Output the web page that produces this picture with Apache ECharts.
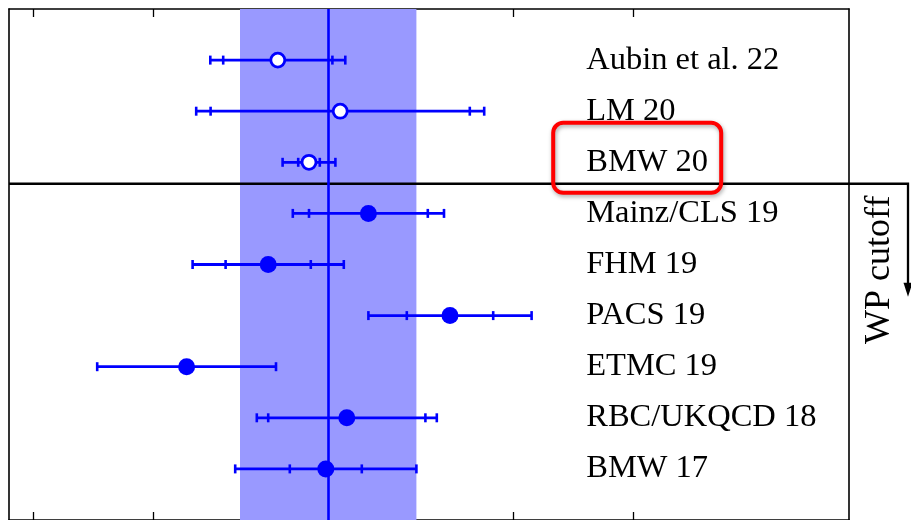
<!DOCTYPE html>
<html><head><meta charset="utf-8">
<script src="https://cdn.jsdelivr.net/npm/echarts@6/dist/echarts.min.js"></script>
<style>html,body{margin:0;padding:0;background:#fff}#c{width:911px;height:520px}</style>
</head><body><div id="c"></div>
<script>
// ---- data ----
const labels = ['Aubin et al. 22','LM 20','BMW 20','Mainz/CLS 19','FHM 19','PACS 19','ETMC 19','RBC/UKQCD 18','BMW 17'];
const centers = [204.08, 205.12, 204.60, 205.59, 203.92, 206.95, 202.56, 205.23, 204.88];
const statErr = [0.91, 2.16, 0.18, 0.99, 0.71, 0.72, null, 1.31, 0.60];
const totErr  = [1.125, 2.40, 0.44, 1.26, 1.26, 1.36, 1.49, 1.50, 1.51];
const openMarker = [true, true, true, false, false, false, false, false, false];
const bandCenter = 204.92;
const bandHalf = 1.47;
const tickValues = [200, 202, 204, 206, 208, 210];
const cutoffRow = 2.42;
const highlightRow = 2;
const cutoffText = 'WP cutoff';

// ---- layout constants ----
const X_MIN = 199.6, X_MAX = 213.6, LABEL_X = 209.22;
const BLUE = '#0000ff';
const SERIF = '"Liberation Serif", "DejaVu Serif", serif';

const chart = echarts.init(document.getElementById('c'), null, {renderer:'canvas'});

const errData = labels.map((n,i)=>[i, centers[i], statErr[i] == null ? 0 : statErr[i], totErr[i]]);
const ptData = labels.map((n,i)=>({
  value:[centers[i], i],
  symbolSize: openMarker[i] ? 14 : 17,
  itemStyle: openMarker[i] ? {color:'#ffffff', borderColor:BLUE, borderWidth:2.8, opacity:1} : {color:BLUE, borderWidth:0, opacity:1}
}));
const labelData = labels.map((n,i)=>({value:[LABEL_X, i], name:n}));

function axisX(pos){
  return {type:'value', position:pos, min:X_MIN, max:X_MAX,
    axisLine:{show:true, onZero:false, lineStyle:{color:'#000', width:1.6}},
    axisTick:{show:true, inside:true, length:8, customValues:tickValues, lineStyle:{color:'#000', width:1.3}},
    axisLabel:{show:false}, splitLine:{show:false}};
}
function axisY(pos){
  return {type:'value', position:pos, min:-1, max:9, inverse:true,
    axisLine:{show:true, onZero:false, lineStyle:{color:'#000', width:1.6}},
    axisTick:{show:false}, axisLabel:{show:false}, splitLine:{show:false}};
}

chart.setOption({
  animation:false,
  backgroundColor:'#fff',
  grid:{left:9, top:9, width:840, height:511.5, containLabel:false},
  xAxis:[axisX('bottom'), axisX('top')],
  yAxis:[axisY('left'), axisY('right')],
  series:[
    { type:'scatter', data:[], z:1, silent:true,
      markArea:{silent:true, itemStyle:{color:'#9999ff', opacity:1},
        data:[[{xAxis:bandCenter-bandHalf},{xAxis:bandCenter+bandHalf}]]}
    },
    { type:'scatter', data:[], z:2, silent:true,
      markLine:{silent:true, symbol:['none','none'], label:{show:false},
        lineStyle:{color:BLUE, width:2.6, type:'solid', opacity:1},
        data:[{xAxis:bandCenter}]}
    },
    { type:'custom', z:3, silent:true, clip:false,
      data:[[cutoffRow]],
      renderItem:function(params, api){
        const row = api.value(0);
        const pL = api.coord([X_MIN, row]);
        const pR = api.coord([X_MAX, row]);
        const y = pL[1];
        const xe = pR[0] + 59;
        const yb = y + 113;
        const tx = pR[0] + 31;
        const ty = y + 86;
        return {type:'group', children:[
          {type:'polyline', shape:{points:[[pL[0],y],[xe,y],[xe,yb-12]]}, style:{stroke:'#000', lineWidth:2.3, fill:null}},
          {type:'polygon', shape:{points:[[xe-4.5,yb-14],[xe+4.5,yb-14],[xe,yb]]}, style:{fill:'#000'}},
          {type:'text', x:tx, y:ty, rotation:Math.PI/2,
            style:{text:cutoffText, font:'36px '+SERIF, fill:'#000', align:'center', verticalAlign:'middle'}}
        ]};
      }
    },
    { type:'custom', z:4, silent:true, clip:false,
      data:errData,
      renderItem:function(params, api){
        const row = api.value(0), c = api.value(1), s = api.value(2), t = api.value(3);
        const a = api.coord([c - t, row]), b = api.coord([c + t, row]);
        const y = a[1], h = 4.5;
        const st = {stroke:BLUE, lineWidth:2.8};
        const ct = {stroke:BLUE, lineWidth:2.6};
        const ch = [
          {type:'line', shape:{x1:a[0], y1:y, x2:b[0], y2:y}, style:st},
          {type:'line', shape:{x1:a[0], y1:y-h, x2:a[0], y2:y+h}, style:ct},
          {type:'line', shape:{x1:b[0], y1:y-h, x2:b[0], y2:y+h}, style:ct}
        ];
        if (s > 0) {
          const p = api.coord([c - s, row]), q = api.coord([c + s, row]);
          ch.push({type:'line', shape:{x1:p[0], y1:y-h, x2:p[0], y2:y+h}, style:ct});
          ch.push({type:'line', shape:{x1:q[0], y1:y-h, x2:q[0], y2:y+h}, style:ct});
        }
        return {type:'group', children:ch};
      }
    },
    { type:'scatter', z:5, silent:true, symbol:'circle', itemStyle:{opacity:1}, data:ptData },
    { type:'scatter', z:5, silent:true, symbolSize:0, itemStyle:{opacity:1}, data:labelData,
      label:{show:true, position:'right', distance:0, formatter:p=>p.name,
        fontFamily:SERIF, fontSize:32.5, color:'#000', opacity:1}
    },
    { type:'custom', z:6, silent:true, clip:false,
      data:[[highlightRow]],
      renderItem:function(params, api){
        const p = api.coord([LABEL_X, api.value(0)]);
        return {type:'rect', shape:{x:p[0]-33, y:p[1]-39.5, width:168, height:70, r:10},
          style:{fill:null, stroke:'#ff0000', lineWidth:4,
            shadowBlur:4, shadowColor:'rgba(0,0,0,0.35)', shadowOffsetX:1, shadowOffsetY:2}};
      }
    }
  ]
});
</script></body></html>
